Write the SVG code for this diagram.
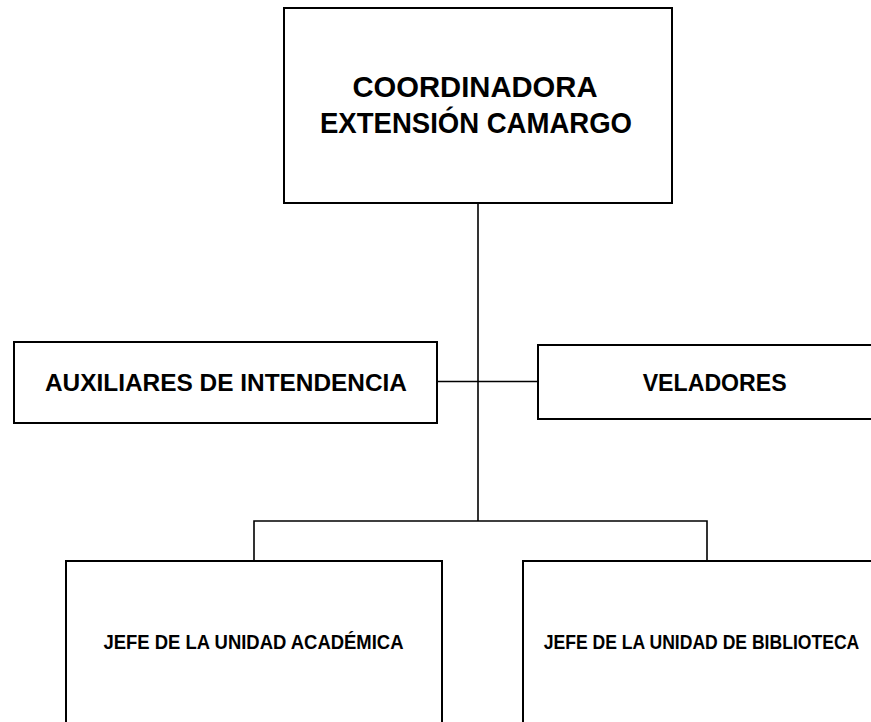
<svg xmlns="http://www.w3.org/2000/svg" width="871" height="722" viewBox="0 0 871 722">
<style>
.box{fill:#fff;stroke:#000;stroke-width:2}
.con{fill:none;stroke:#000;stroke-width:1.6}
.t{font-family:"Liberation Sans",Arial,sans-serif;font-weight:bold;fill:#000;text-anchor:middle}
</style>
<rect width="871" height="722" fill="#fff"/>
<g id="connectors">
<path class="con" d="M478,203 V521"/>
<path class="con" d="M437,381.5 H538"/>
<path class="con" d="M254,561 V521 H707 V561"/>
</g>
<g id="coordinadora">
<rect class="box" x="284" y="8" width="388" height="195"/>
<text class="t" x="475" y="97" font-size="30" textLength="245" lengthAdjust="spacingAndGlyphs">COORDINADORA</text>
<text class="t" x="476" y="133" font-size="30" textLength="312" lengthAdjust="spacingAndGlyphs">EXTENSIÓN CAMARGO</text>
</g>
<g id="auxiliares">
<rect class="box" x="14" y="342" width="423" height="81"/>
<text class="t" x="226" y="391" font-size="24" textLength="362" lengthAdjust="spacingAndGlyphs">AUXILIARES DE INTENDENCIA</text>
</g>
<g id="veladores">
<rect class="box" x="538" y="345" width="353" height="74"/>
<text class="t" x="714.7" y="391" font-size="24" textLength="144" lengthAdjust="spacingAndGlyphs">VELADORES</text>
</g>
<g id="jefe-academica">
<rect class="box" x="66" y="561" width="376" height="200"/>
<text class="t" x="253.5" y="649" font-size="19.5" textLength="300" lengthAdjust="spacingAndGlyphs">JEFE DE LA UNIDAD ACADÉMICA</text>
</g>
<g id="jefe-biblioteca">
<rect class="box" x="523" y="561" width="376" height="200"/>
<text class="t" x="701.5" y="649" font-size="19.5" textLength="315.6" lengthAdjust="spacingAndGlyphs">JEFE DE LA UNIDAD DE BIBLIOTECA</text>
</g>
</svg>
